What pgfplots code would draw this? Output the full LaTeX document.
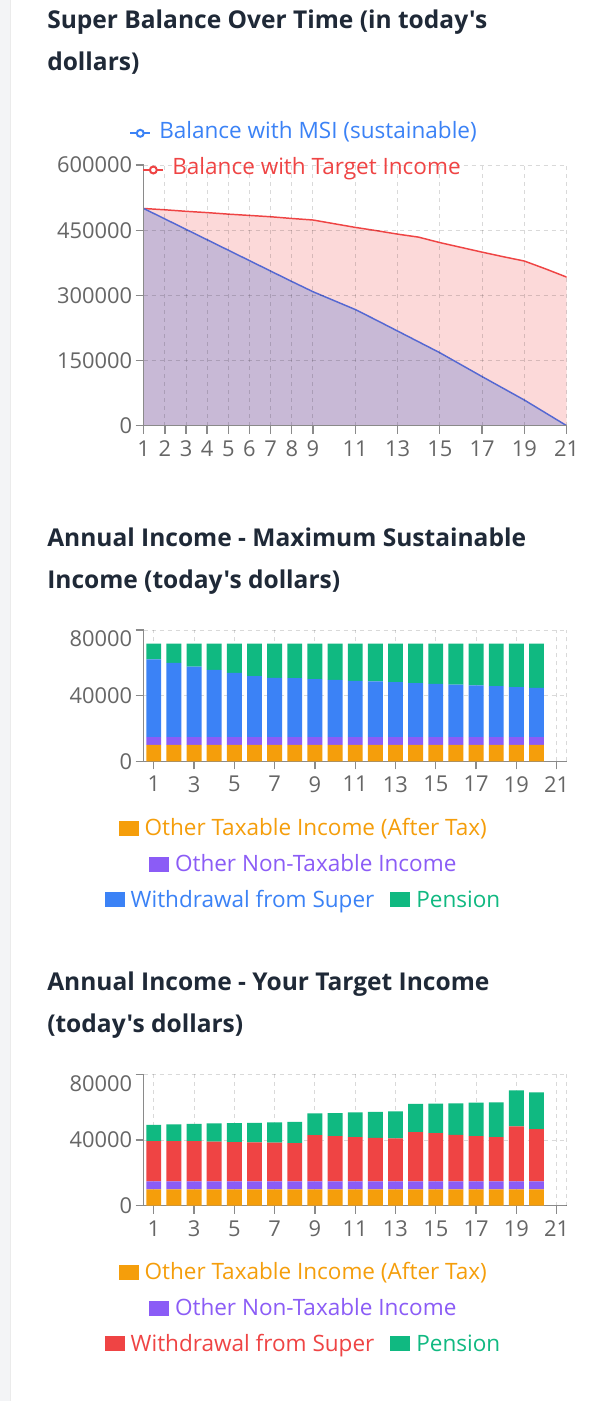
\documentclass[border=0pt]{standalone}
\usepackage{fontspec}
\setmainfont{Open Sans}[Ligatures=TeXOff]
\usepackage{pgfplots}
\pgfplotsset{compat=1.18}

\definecolor{cOrange}{HTML}{F59E0B}
\definecolor{cPurple}{HTML}{8B5CF6}
\definecolor{cBlue}{HTML}{3B82F6}
\definecolor{cGreen}{HTML}{10B981}
\definecolor{cRed}{HTML}{EF4444}
\definecolor{cPink}{HTML}{FCD9D9}
\definecolor{cMix}{HTML}{C8B9D6}
\definecolor{cLine}{HTML}{5568D2}
\definecolor{cTitle}{HTML}{1F2937}
\definecolor{cTick}{HTML}{666666}
\definecolor{cAxis}{HTML}{8A8A8A}
\definecolor{cStrip}{HTML}{F3F4F6}

\newcommand\tickfont{\fontsize{16.4pt}{19pt}\selectfont}
\newcommand\legfont{\fontsize{16.9pt}{20pt}\selectfont}
\newcommand\titlefont{\fontsize{18.4pt}{23pt}\selectfont\bfseries}
\newcommand\legbox[1]{\textcolor{#1}{\rule{15pt}{11.25pt}}\hspace{4.5pt}}
\newcommand\legline[1]{\tikz[baseline=-3.75pt]{\draw[#1, line width=1.5pt] (0pt,0pt) -- (15pt,0pt);
  \draw[#1, line width=1.5pt, fill=white] (7.5pt,0pt) circle (2.6pt);}\hspace{6pt}}

\pgfplotsset{
  /pgf/number format/assume math mode=true,
  base/.style={
    scale only axis, width=317.25pt,
    axis x line*=bottom, axis y line*=left,
    axis line style={draw=cAxis, line width=1.1pt, -},
    tick style={draw=cAxis, line width=1pt},
    tick align=outside, major tick length=6pt,
    grid=major,
    major grid style={draw=black, opacity=0.15, line width=0.75pt, dash pattern=on 3pt off 3pt},
    scaled ticks=false,
    xticklabel={\pgfmathprintnumber{\tick}},
    yticklabel={\pgfmathprintnumber{\tick}},
    ticklabel style={font=\tickfont, text=cTick, inner sep=0pt},
    xticklabel style={yshift=-5pt},
    yticklabel style={xshift=-2.5pt},
    /pgf/number format/fixed,
    /pgf/number format/1000 sep={},
  },
  bars/.style={
    base, height=98.5pt,
    ybar stacked, bar width=0.74,
    xmin=0.5, xmax=21.5, ymin=0, ymax=80000,
    ytick={0,40000},
    extra y ticks={80000},
    extra y tick style={grid=major, yticklabel style={yshift=-6.75pt}},
    xtick={1,3,5,7,9,11,13,15,17,19,21},
    extra x ticks={21.5}, extra x tick labels={},
    extra x tick style={major tick length=0pt, grid=major},
  },
}

\begin{document}
\begin{tikzpicture}[x=0.75pt, y=-0.75pt]
\fill[white] (0,0) rectangle (610,1401);
\useasboundingbox (0,0) rectangle (610,1401);
\fill[cStrip] (0,0) rectangle (10.5,1401);
\draw[black!8, line width=0.75pt] (10.5,0) -- (10.5,1401);

\coordinate (A1) at (143.7,425.7);
\coordinate (A2) at (143.7,761.4);
\coordinate (A3) at (143.7,1205.7);

% ---------- chart 1: balance ----------
\node[anchor=base west, inner sep=0pt, text=cTitle, font=\titlefont] at (47,29) {Super Balance Over Time (in today's};
\node[anchor=base west, inner sep=0pt, text=cTitle, font=\titlefont] at (47,70.5) {dollars)};
\node[anchor=base, inner sep=0pt, font=\legfont, text=cBlue] at (303,138.3) {\legline{cBlue}Balance with MSI (sustainable)};

\begin{axis}[base, at={(A1)}, anchor=south west, height=195.5pt, axis on top,
  xmin=1, xmax=21, ymin=0, ymax=600000,
  xtick={1,2,3,4,5,6,7,8,9,11,13,15,17,19,21},
  ytick={0,150000,300000,450000,600000}]
\addplot[draw=none, fill=cPink] coordinates {
  (1,500000) (2,497000) (3,493500) (4,490500) (5,487000) (6,484000) (7,481000)
  (8,477000) (9,473500) (10,465000) (11,456500) (12,449000) (13,441000) (14,434000)
  (15,421500) (16,410500) (17,399500) (18,389000) (19,379000) (20,361000) (21,342000)
} \closedcycle;
\addplot[draw=none, fill=cMix] coordinates {
  (1,500000) (2,476000) (3,452000) (4,428000) (5,404000) (6,380000) (7,356000)
  (8,332000) (9,308500) (10,288000) (11,267500) (12,243000) (13,218000) (14,193000)
  (15,168000) (16,140500) (17,113000) (18,86000) (19,59000) (20,29500) (21,0)
} \closedcycle;
\addplot[cRed, line width=1.1pt, mark=none] coordinates {
  (1,500000) (2,497000) (3,493500) (4,490500) (5,487000) (6,484000) (7,481000)
  (8,477000) (9,473500) (10,465000) (11,456500) (12,449000) (13,441000) (14,434000)
  (15,421500) (16,410500) (17,399500) (18,389000) (19,379000) (20,361000) (21,342000)
};
\addplot[cLine, line width=1.1pt, mark=none] coordinates {
  (1,500000) (2,476000) (3,452000) (4,428000) (5,404000) (6,380000) (7,356000)
  (8,332000) (9,308500) (10,288000) (11,267500) (12,243000) (13,218000) (14,193000)
  (15,168000) (16,140500) (17,113000) (18,86000) (19,59000) (20,29500) (21,0)
};
\end{axis}
\node[anchor=base, inner sep=0pt, font=\legfont, text=cRed] at (301.5,175) {\legline{cRed}Balance with Target Income};

% ---------- chart 2: MSI income ----------
\node[anchor=base west, inner sep=0pt, text=cTitle, font=\titlefont] at (47,546.7) {Annual Income - Maximum Sustainable};
\node[anchor=base west, inner sep=0pt, text=cTitle, font=\titlefont] at (47,588.3) {Income (today's dollars)};

\begin{axis}[bars, at={(A2)}, anchor=south west]
\addplot[fill=cOrange, draw=none] coordinates {
  (1,10000) (2,10000) (3,10000) (4,10000) (5,10000) (6,10000) (7,10000) (8,10000) (9,10000) (10,10000)
  (11,10000) (12,10000) (13,10000) (14,10000) (15,10000) (16,10000) (17,10000) (18,10000) (19,10000) (20,10000)};
\addplot[fill=cPurple, draw=none] coordinates {
  (1,4800) (2,4800) (3,4800) (4,4800) (5,4800) (6,4800) (7,4800) (8,4800) (9,4800) (10,4800)
  (11,4800) (12,4800) (13,4800) (14,4800) (15,4800) (16,4800) (17,4800) (18,4800) (19,4800) (20,4800)};
\addplot[fill=cBlue, draw=none] coordinates {
  (1,47400) (2,45200) (3,43000) (4,41000) (5,39100) (6,37100) (7,36100) (8,35900) (9,35300) (10,34900)
  (11,34300) (12,33900) (13,33500) (14,32900) (15,32500) (16,31900) (17,31500) (18,31100) (19,30500) (20,30000)};
\addplot[fill=cGreen, draw=none] coordinates {
  (1,9500) (2,11700) (3,13900) (4,15900) (5,17800) (6,19800) (7,20800) (8,21000) (9,21600) (10,22000)
  (11,22600) (12,23000) (13,23400) (14,24000) (15,24400) (16,25000) (17,25400) (18,25800) (19,26400) (20,26900)};
\end{axis}

\node[anchor=base, inner sep=0pt, font=\legfont, text=cOrange] at (302.7,835.7) {\legbox{cOrange}Other Taxable Income (After Tax)};
\node[anchor=base, inner sep=0pt, font=\legfont, text=cPurple] at (302.7,871.7) {\legbox{cPurple}Other Non-Taxable Income};
\node[anchor=base, inner sep=0pt, font=\legfont] at (302.5,907.3) {\legbox{cBlue}\textcolor{cBlue}{Withdrawal from Super}\hspace{12pt}\legbox{cGreen}\textcolor{cGreen}{Pension}};

% ---------- chart 3: target income ----------
\node[anchor=base west, inner sep=0pt, text=cTitle, font=\titlefont] at (47,990.7) {Annual Income - Your Target Income};
\node[anchor=base west, inner sep=0pt, text=cTitle, font=\titlefont] at (47,1032.3) {(today's dollars)};

\begin{axis}[bars, at={(A3)}, anchor=south west]
\addplot[fill=cOrange, draw=none] coordinates {
  (1,10000) (2,10000) (3,10000) (4,10000) (5,10000) (6,10000) (7,10000) (8,10000) (9,10000) (10,10000)
  (11,10000) (12,10000) (13,10000) (14,10000) (15,10000) (16,10000) (17,10000) (18,10000) (19,10000) (20,10000)};
\addplot[fill=cPurple, draw=none] coordinates {
  (1,4800) (2,4800) (3,4800) (4,4800) (5,4800) (6,4800) (7,4800) (8,4800) (9,4800) (10,4800)
  (11,4800) (12,4800) (13,4800) (14,4800) (15,4800) (16,4800) (17,4800) (18,4800) (19,4800) (20,4800)};
\addplot[fill=cRed, draw=none] coordinates {
  (1,24600) (2,24600) (3,24600) (4,24200) (5,24000) (6,23800) (7,23600) (8,23400) (9,28200) (10,27600)
  (11,27000) (12,26600) (13,26200) (14,30000) (15,29400) (16,28400) (17,27600) (18,27000) (19,33500) (20,31900)};
\addplot[fill=cGreen, draw=none] coordinates {
  (1,9900) (2,10100) (3,10500) (4,11100) (5,11500) (6,11900) (7,12300) (8,12900) (9,13200) (10,14000)
  (11,15000) (12,15800) (13,16400) (14,17200) (15,18000) (16,19200) (17,20400) (18,21200) (19,22000) (20,22400)};
\end{axis}

\node[anchor=base, inner sep=0pt, font=\legfont, text=cOrange] at (302.7,1279.7) {\legbox{cOrange}Other Taxable Income (After Tax)};
\node[anchor=base, inner sep=0pt, font=\legfont, text=cPurple] at (302.7,1315.7) {\legbox{cPurple}Other Non-Taxable Income};
\node[anchor=base, inner sep=0pt, font=\legfont] at (302.5,1351.3) {\legbox{cRed}\textcolor{cRed}{Withdrawal from Super}\hspace{12pt}\legbox{cGreen}\textcolor{cGreen}{Pension}};
\end{tikzpicture}
\end{document}
